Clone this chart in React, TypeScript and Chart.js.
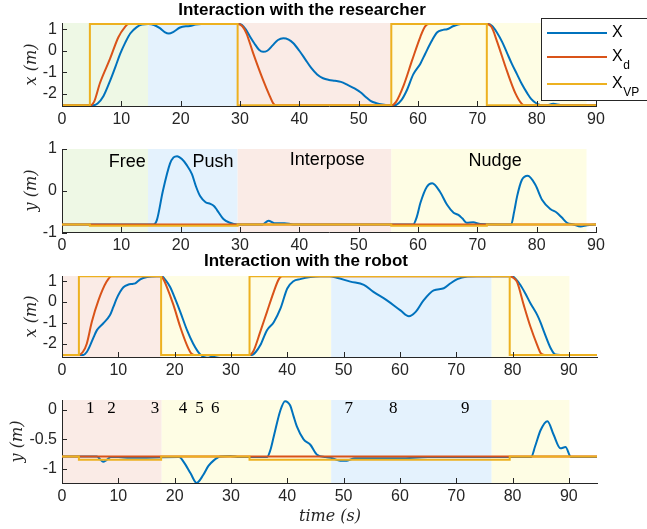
import React, { useEffect, useRef } from "react";
import { Chart, registerables } from "chart.js";
Chart.register(...registerables);

type P = [number, number];

// ---------------- Data ----------------
const xTicks90 = [0, 10, 20, 30, 40, 50, 60, 70, 80, 90];
const yTicksX = [-2, -1, 0, 1];
const yTicksResY = [-1, 0, 1];
const yTicksRobY = [-1, -0.5, 0];

// Panel 1: interaction with the researcher, x (m)
const resX_X: P[] = [
  [0, -2.54], [5.2, -2.54], [6, -2.45], [7, -2.1], [8.1, -1.4], [9, -0.75], [9.8, -0.15], [10.7, 0.4],
  [11.5, 0.8], [12.6, 1.1], [13.5, 1.22], [14.5, 1.24], [15.5, 1.2], [16.5, 1.05], [17.3, 0.87], [18, 0.8],
  [18.8, 0.88], [19.9, 1.08], [21, 1.14], [21.6, 1.15], [22.5, 1.22], [23.5, 1.24], [29.8, 1.24], [30.3, 1.2],
  [31, 0.98], [31.7, 0.65], [32.4, 0.35], [33.2, 0.05], [33.9, -0.05], [34.6, 0.0], [35.5, 0.25], [36.4, 0.5],
  [37.3, 0.58], [38.2, 0.52], [39, 0.35], [40, 0.0], [41, -0.4], [42, -0.8], [43, -1.1], [44, -1.28],
  [45, -1.36], [46, -1.4], [47, -1.45], [48.2, -1.6], [49.3, -1.75], [50.3, -1.93], [51.2, -2.15], [52, -2.33],
  [53, -2.44], [54, -2.5], [55.6, -2.54], [56.3, -2.52], [57.2, -2.3], [58.1, -1.85], [59.2, -1.1], [60.4, -0.6],
  [61.2, -0.15], [62.1, 0.35], [63.2, 0.85], [64.2, 0.97], [64.9, 1.0], [66, 1.15], [67.2, 1.24], [71.8, 1.24],
  [72.5, 1.15], [73.3, 0.85], [74.2, 0.4], [75, -0.1], [75.8, -0.6], [76.7, -1.1], [77.5, -1.55], [78.4, -1.97],
  [79.1, -2.25], [79.8, -2.42], [80.6, -2.52], [81.5, -2.54], [82.8, -2.47], [84, -2.52], [90, -2.54],
];
const resX_Xd: P[] = [
  [0, -2.54], [4.7, -2.54], [5.4, -2.38], [6.4, -1.5], [8.1, -0.37], [9.5, 0.63], [10.6, 1.1], [11.2, 1.24],
  [29.6, 1.24], [30.4, 1.14], [31.1, 0.8], [32.2, -0.1], [33.9, -1.37], [35, -2.1], [35.6, -2.45], [36.1, -2.54],
  [55.5, -2.54], [56.3, -2.38], [57.6, -1.6], [59, -0.45], [60.4, 0.65], [61.2, 1.13], [61.8, 1.24],
  [71.6, 1.24], [72.4, 1.1], [73.3, 0.45], [75, -0.95], [76.4, -1.97], [77.5, -2.47], [78.1, -2.54], [90, -2.54],
];
const resX_Xvp: P[] = [
  [0, -2.54], [4.7, -2.54], [4.7, 1.24], [29.6, 1.24], [29.6, -2.54], [55.5, -2.54], [55.5, 1.24],
  [71.6, 1.24], [71.6, -2.54], [90, -2.54],
];

// Panel 2: interaction with the researcher, y (m)
const resY_X: P[] = [
  [0, -0.8], [15.4, -0.8], [16, -0.69], [17, 0.0], [18.2, 0.65], [18.8, 0.8], [19.4, 0.83], [20.2, 0.76],
  [21, 0.62], [21.9, 0.4], [22.6, 0.1], [23.3, -0.13], [24.2, -0.27], [25, -0.31], [25.6, -0.36], [26.1, -0.45],
  [27.2, -0.67], [28.3, -0.76], [29.5, -0.8], [33.8, -0.8], [34.8, -0.71], [35.8, -0.77], [37.5, -0.77],
  [39, -0.8], [59.2, -0.8], [59.8, -0.62], [60.4, -0.29], [61.5, 0.1], [62.4, 0.18], [63.7, -0.02],
  [64.9, -0.33], [66, -0.52], [66.8, -0.57], [67.5, -0.66], [68.2, -0.76], [69.3, -0.75], [70.5, -0.79],
  [75.7, -0.8], [76.2, -0.5], [76.7, -0.13], [77.5, 0.26], [78.5, 0.36], [79.8, 0.14], [80.9, -0.21],
  [82.3, -0.43], [83.4, -0.52], [84.2, -0.63], [85.1, -0.76], [86.2, -0.8], [87.4, -0.85], [88.5, -0.82],
  [90, -0.8],
];
const resY_Xd: P[] = [[0, -0.8], [90, -0.8]];
const resY_Xvp: P[] = [
  [0, -0.8], [4.7, -0.8], [4.7, -0.83], [29.6, -0.83], [29.6, -0.8], [55.5, -0.8], [55.5, -0.83],
  [71.6, -0.83], [71.6, -0.8], [90, -0.8],
];

// Panel 3: interaction with the robot, x (m)
const robX_X: P[] = [
  [0, -2.54], [3.8, -2.54], [4.4, -2.4], [5, -2.08], [5.6, -1.7], [6.2, -1.35], [7.3, -1.03], [8.5, -0.64],
  [9.1, -0.25], [9.7, 0.16], [10.3, 0.48], [10.9, 0.71], [11.8, 0.84], [12.5, 0.87], [13, 0.9], [13.9, 1.09],
  [15.1, 1.2], [16.8, 1.24], [17.7, 1.24], [18.4, 1.05], [19.2, 0.72], [20.1, 0.15], [21, -0.47],
  [22.2, -1.35], [23.3, -2.0], [24.5, -2.5], [25.7, -2.68], [26.9, -2.6], [28.1, -2.54], [33.7, -2.54],
  [34.4, -2.4], [35.2, -2.08], [36.4, -1.35], [37.6, -0.97], [38.8, -0.31], [40, 0.65], [41.1, 1.0],
  [42.3, 1.1], [44.1, 1.2], [45.9, 1.24], [47.5, 1.24], [48.8, 1.17], [51.2, 0.98], [53.6, 0.82],
  [55.3, 0.49], [57.7, 0.08], [60.1, -0.4], [61.6, -0.68], [62.8, -0.47], [64.2, 0.08], [66, 0.56],
  [67.8, 0.66], [69, 0.9], [70.2, 1.1], [72, 1.22], [73.7, 1.24], [79.9, 1.24], [80.6, 1.1], [81.4, 0.82],
  [82.3, 0.4], [83.2, -0.07], [84.4, -0.63], [85, -1.0], [85.6, -1.43], [86.8, -2.23], [87.6, -2.52],
  [88.5, -2.54], [95, -2.54],
];
const robX_Xd: P[] = [
  [0, -2.54], [3, -2.54], [3.7, -2.4], [4.4, -2.0], [5.3, -0.95], [6.5, 0.1], [7.9, 0.97], [8.8, 1.24],
  [17.5, 1.24], [18, 1.1], [18.5, 0.8], [19.8, -0.15], [21, -1.2], [22.2, -2.08], [22.9, -2.45], [23.5, -2.54],
  [33.3, -2.54], [34, -2.35], [35.2, -1.43], [36.4, -0.47], [37.6, 0.49], [38.5, 1.1], [39.1, 1.24],
  [79.5, 1.24], [80.2, 1.15], [80.8, 0.97], [82, -0.15], [83.2, -1.2], [84.4, -2.08], [85, -2.45],
  [85.7, -2.54], [95, -2.54],
];
const robX_Xvp: P[] = [
  [0, -2.54], [3, -2.54], [3, 1.24], [17.6, 1.24], [17.6, -2.54], [33.3, -2.54], [33.3, 1.24],
  [79.5, 1.24], [79.5, -2.54], [95, -2.54],
];

// Panel 4: interaction with the robot, y (m)
const robY_X: P[] = [
  [0, -0.79], [6.2, -0.79], [6.8, -0.84], [7.3, -0.88], [7.9, -0.85], [8.7, -0.8], [10, -0.8], [12, -0.81],
  [20.8, -0.8], [21.6, -0.88], [22.8, -1.07], [23.9, -1.24], [25.1, -1.1], [26, -0.95], [26.9, -0.86],
  [28.1, -0.79], [29.9, -0.78], [31.5, -0.8], [36.4, -0.8], [37, -0.68], [37.6, -0.45], [38.8, 0.0],
  [39.6, 0.15], [40.5, 0.08], [41.1, -0.1], [41.7, -0.28], [42.9, -0.5], [44.1, -0.59], [45.3, -0.76],
  [46.8, -0.8], [48, -0.82], [49.4, -0.86], [50.6, -0.86], [52, -0.82], [60, -0.82], [65, -0.8],
  [83.3, -0.8], [84, -0.62], [85, -0.34], [86.2, -0.19], [87.3, -0.42], [88.5, -0.65], [89.4, -0.63],
  [90.4, -0.8], [95, -0.8],
];
const robY_Xd: P[] = [[0, -0.79], [95, -0.79]];
const robY_Xvp: P[] = [
  [0, -0.79], [3, -0.79], [3, -0.845], [17.6, -0.845], [17.6, -0.79], [33.3, -0.79], [33.3, -0.845],
  [79.5, -0.845], [79.5, -0.79], [95, -0.79],
];

// Phases (background shading)
const resPhaseStart = [0, 14.5, 29.6, 55.5];
const resPhaseEnd = [14.5, 29.6, 55.5, 88.4];
const resPhaseKind = ["free", "push", "interpose", "nudge"];
const resPhaseLabels = ["Free", "Push", "Interpose", "Nudge"];
const resPhaseLabelX = [11.0, 25.45, 44.7, 73.0];
const resPhaseLabelY = [0.56, 0.56, 0.62, 0.6];

const robPhaseStart = [0, 17.7, 47.8, 76.3];
const robPhaseEnd = [17.7, 47.8, 76.3, 90.1];
const robPhaseKind = ["interpose", "nudge", "push", "nudge"];

const robEventLabels = ["1", "2", "3", "4", "5", "6", "7", "8", "9"];
const robEventTimes = [5.0, 8.8, 16.5, 21.5, 24.4, 27.2, 50.9, 58.8, 71.6];
const robEventY = -0.05;

const legendMain = ["X", "X", "X"];
const legendSub = ["", "d", "VP"];

// ---------------- Styles ----------------
const W = 647;
const H = 529;
const XAXIS_H = 22;
const YAXIS_W = 62;
const AXIS_COLOR = "#262626";
const COLORS = { X: "#0072BD", Xd: "#D95319", Xvp: "#EDB120" };
const SHADE: Record<string, string> = {
  free: "#EEF8E5",
  push: "#E4F2FD",
  interpose: "#FAEBE6",
  nudge: "#FEFDE4",
};
const SANS = "'Liberation Sans', Arial, Helvetica, sans-serif";
const SERIF = "'Liberation Serif', 'Times New Roman', serif";
const DSERIF = "'DejaVu Serif', serif";

type Spec = {
  id: string;
  top: number;
  bottom: number;
  right: number;
  xMax: number;
  yMin: number;
  yMax: number;
  yTicks: number[];
  X: P[];
  Xd: P[];
  Xvp: P[];
  phaseStart: number[];
  phaseEnd: number[];
  phaseKind: string[];
  yLabel: string;
  yLabelX: number;
  extra?: (chart: any) => void;
};

function drawTitle(ctx: CanvasRenderingContext2D, text: string, x: number, y: number) {
  ctx.save();
  ctx.font = `bold 17px ${SANS}`;
  ctx.fillStyle = "#000";
  ctx.textAlign = "center";
  ctx.textBaseline = "middle";
  ctx.fillText(text, x, y);
  ctx.restore();
}

const specs: Spec[] = [
  {
    id: "p1", top: 23, bottom: 106, right: 596, xMax: 90, yMin: -2.57, yMax: 1.29, yTicks: yTicksX,
    X: resX_X, Xd: resX_Xd, Xvp: resX_Xvp,
    phaseStart: resPhaseStart, phaseEnd: resPhaseEnd, phaseKind: resPhaseKind, yLabel: "x (m)", yLabelX: 32,
    extra: (chart) => {
      const ctx: CanvasRenderingContext2D = chart.ctx;
      drawTitle(ctx, "Interaction with the researcher", 302, 10.5);
      // legend
      ctx.save();
      ctx.fillStyle = "#fff";
      ctx.fillRect(541.5, 18.5, 130, 82);
      ctx.strokeStyle = AXIS_COLOR;
      ctx.lineWidth = 1;
      ctx.strokeRect(541.5, 18.5, 130, 82);
      const rows = [33, 57, 84];
      const ds = chart.data.datasets;
      legendMain.forEach((m, i) => {
        ctx.strokeStyle = ds[i].borderColor;
        ctx.lineWidth = 2;
        ctx.beginPath();
        ctx.moveTo(547, rows[i]);
        ctx.lineTo(607, rows[i]);
        ctx.stroke();
        ctx.fillStyle = "#000";
        ctx.textBaseline = "middle";
        ctx.textAlign = "left";
        ctx.font = `16px ${SANS}`;
        ctx.fillText(m, 612, rows[i]);
        if (legendSub[i]) {
          const w = ctx.measureText(m).width;
          ctx.font = `12px ${SANS}`;
          ctx.fillText(legendSub[i], 612 + w + 0.5, rows[i] + 9);
        }
      });
      ctx.restore();
    },
  },
  {
    id: "p2", top: 149, bottom: 232, right: 596, xMax: 90, yMin: -0.98, yMax: 1.0, yTicks: yTicksResY,
    X: resY_X, Xd: resY_Xd, Xvp: resY_Xvp,
    phaseStart: resPhaseStart, phaseEnd: resPhaseEnd, phaseKind: resPhaseKind, yLabel: "y (m)", yLabelX: 32,
    extra: (chart) => {
      const ctx: CanvasRenderingContext2D = chart.ctx;
      const { x, y } = chart.scales;
      ctx.save();
      ctx.font = `18px ${SANS}`;
      ctx.fillStyle = "#000";
      ctx.textAlign = "center";
      ctx.textBaseline = "alphabetic";
      resPhaseLabels.forEach((t, i) => {
        ctx.fillText(t, x.getPixelForValue(resPhaseLabelX[i]), y.getPixelForValue(resPhaseLabelY[i]));
      });
      ctx.restore();
    },
  },
  {
    id: "p3", top: 276, bottom: 357, right: 597, xMax: 95, yMin: -2.64, yMax: 1.25, yTicks: yTicksX,
    X: robX_X, Xd: robX_Xd, Xvp: robX_Xvp,
    phaseStart: robPhaseStart, phaseEnd: robPhaseEnd, phaseKind: robPhaseKind, yLabel: "x (m)", yLabelX: 32,
    extra: (chart) => {
      drawTitle(chart.ctx, "Interaction with the robot", 306, 261.5);
    },
  },
  {
    id: "p4", top: 400, bottom: 483, right: 597, xMax: 95, yMin: -1.24, yMax: 0.17, yTicks: yTicksRobY,
    X: robY_X, Xd: robY_Xd, Xvp: robY_Xvp,
    phaseStart: robPhaseStart, phaseEnd: robPhaseEnd, phaseKind: robPhaseKind, yLabel: "y (m)", yLabelX: 18,
    extra: (chart) => {
      const ctx: CanvasRenderingContext2D = chart.ctx;
      const { x, y } = chart.scales;
      ctx.save();
      ctx.font = `17px ${SERIF}`;
      ctx.fillStyle = "#000";
      ctx.textAlign = "center";
      ctx.textBaseline = "alphabetic";
      robEventLabels.forEach((t, i) => {
        ctx.fillText(t, x.getPixelForValue(robEventTimes[i]), y.getPixelForValue(robEventY));
      });
      ctx.font = `italic 16px ${DSERIF}`;
      ctx.fillStyle = AXIS_COLOR;
      ctx.fillText("time (s)", 330, 521);
      ctx.restore();
    },
  },
];

function panelPlugin(spec: Spec) {
  return {
    id: "panel_" + spec.id,
    beforeDraw(chart: any) {
      const { ctx, chartArea: a, scales } = chart;
      const x = scales.x;
      ctx.save();
      spec.phaseStart.forEach((s, i) => {
        const x0 = x.getPixelForValue(s);
        const x1 = x.getPixelForValue(spec.phaseEnd[i]);
        ctx.fillStyle = SHADE[spec.phaseKind[i]];
        ctx.fillRect(x0, a.top, x1 - x0, a.bottom - a.top);
      });
      ctx.restore();
    },
    afterDatasetsDraw(chart: any) {
      const { ctx, chartArea: a, scales } = chart;
      ctx.save();
      ctx.strokeStyle = AXIS_COLOR;
      ctx.lineWidth = 1;
      ctx.beginPath();
      xTicks90.forEach((v) => {
        const px = Math.round(scales.x.getPixelForValue(v)) + 0.5;
        ctx.moveTo(px, a.bottom);
        ctx.lineTo(px, a.bottom - 5);
      });
      spec.yTicks.forEach((v) => {
        const py = Math.round(scales.y.getPixelForValue(v)) + 0.5;
        ctx.moveTo(a.left, py);
        ctx.lineTo(a.left + 5, py);
      });
      ctx.stroke();
      ctx.restore();
    },
    afterDraw(chart: any) {
      const { ctx, chartArea: a } = chart;
      ctx.save();
      ctx.translate(spec.yLabelX, (a.top + a.bottom) / 2);
      ctx.rotate(-Math.PI / 2);
      ctx.font = `italic 16px ${DSERIF}`;
      ctx.fillStyle = AXIS_COLOR;
      ctx.textAlign = "center";
      ctx.textBaseline = "middle";
      ctx.fillText(spec.yLabel, 0, 0);
      ctx.restore();
      if (spec.extra) spec.extra(chart);
    },
  };
}

function buildConfig(spec: Spec): any {
  const line = { pointRadius: 0, borderWidth: 2, fill: false };
  return {
    type: "line",
    data: {
      datasets: [
        { ...line, label: "X", data: spec.X, borderColor: COLORS.X, cubicInterpolationMode: "monotone", order: 2 },
        { ...line, label: "Xd", data: spec.Xd, borderColor: COLORS.Xd, cubicInterpolationMode: "monotone", order: 1 },
        { ...line, label: "XVP", data: spec.Xvp, borderColor: COLORS.Xvp, tension: 0, order: 0 },
      ],
    },
    options: {
      animation: false,
      responsive: false,
      maintainAspectRatio: false,
      events: [],
      layout: {
        padding: { left: 0, right: W - spec.right, top: spec.top, bottom: H - spec.bottom - XAXIS_H },
      },
      plugins: { legend: { display: false }, tooltip: { enabled: false }, title: { display: false } },
      scales: {
        x: {
          type: "linear",
          min: 0,
          max: spec.xMax,
          z: 1,
          grid: { display: false, drawTicks: false },
          border: { display: true, color: AXIS_COLOR, width: 1 },
          ticks: {
            color: AXIS_COLOR,
            font: { family: SANS, size: 16 },
            padding: 4,
            maxRotation: 0,
            autoSkip: false,
            callback: (v: number) => String(v),
          },
          afterBuildTicks: (s: any) => {
            s.ticks = xTicks90.map((v) => ({ value: v }));
          },
          afterFit: (s: any) => {
            s.height = XAXIS_H;
          },
        },
        y: {
          type: "linear",
          min: spec.yMin,
          max: spec.yMax,
          z: 1,
          grid: { display: false, drawTicks: false },
          border: { display: true, color: AXIS_COLOR, width: 1 },
          ticks: {
            color: AXIS_COLOR,
            font: { family: SANS, size: 16 },
            padding: 5,
            autoSkip: false,
            callback: (v: number) => String(v),
          },
          afterBuildTicks: (s: any) => {
            s.ticks = spec.yTicks.map((v) => ({ value: v }));
          },
          afterFit: (s: any) => {
            s.width = YAXIS_W;
          },
        },
      },
    },
    plugins: [panelPlugin(spec)],
  };
}

export default function App() {
  const refs = useRef<(HTMLCanvasElement | null)[]>([]);
  useEffect(() => {
    document.body.style.margin = "0";
    const charts = specs.map((spec, i) => new Chart(refs.current[i] as HTMLCanvasElement, buildConfig(spec)));
    return () => charts.forEach((c) => c.destroy());
  }, []);
  return (
    <div style={{ position: "fixed", left: 0, top: 0, width: W, height: H, background: "#fff", overflow: "hidden" }}>
      {specs.map((s, i) => (
        <canvas
          key={s.id}
          ref={(el) => {
            refs.current[i] = el;
          }}
          width={W}
          height={H}
          style={{ position: "absolute", left: 0, top: 0, width: W, height: H }}
        />
      ))}
    </div>
  );
}
